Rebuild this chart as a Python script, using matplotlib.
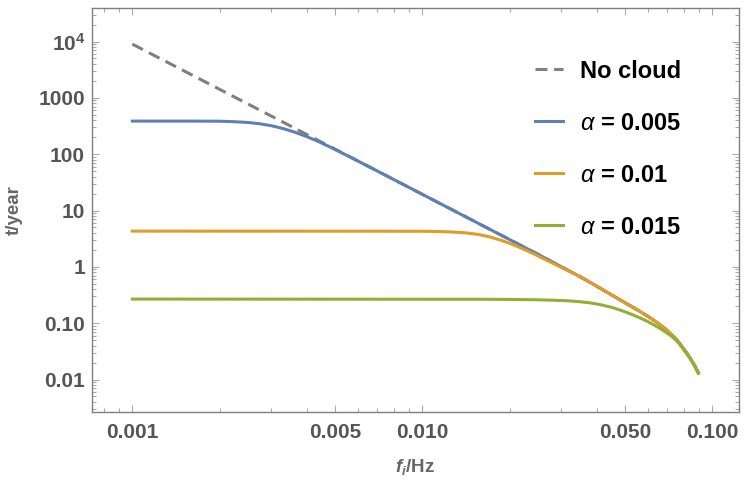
import numpy as np
import matplotlib
matplotlib.use("Agg")
import matplotlib.pyplot as plt
from matplotlib.ticker import FixedLocator, FixedFormatter, NullFormatter

# === data (f in Hz, t in years) ===
# no-cloud curve (straight part + bend near the end)
f_nocloud = [0.001, 0.00316, 0.01, 0.02512, 0.03162, 0.03467, 0.03802, 0.04121, 0.04467,
             0.04732, 0.05012, 0.05309, 0.05623, 0.05957, 0.0631, 0.06607, 0.06918,
             0.07161, 0.07413, 0.07674, 0.07943, 0.08175, 0.08414, 0.08679, 0.08954]
t_nocloud = [9000, 419, 19.4, 1.660, 0.881, 0.687, 0.525, 0.412, 0.324,
             0.272, 0.229, 0.193, 0.162, 0.135, 0.1109, 0.0933, 0.0776,
             0.0661, 0.0556, 0.0452, 0.0359, 0.0292, 0.0234, 0.0180, 0.0130]

# alpha = 0.005: plateau and bend, then it lies on the no-cloud curve
f_a005_head = [0.001, 0.00158, 0.002, 0.002239, 0.002512, 0.002754, 0.00302, 0.003311,
               0.003631, 0.003981, 0.004365, 0.004786, 0.005248, 0.00631, 0.01]
t_a005_head = [387, 387, 385, 378, 365.6, 346.7, 319.9, 285.1,
               246.0, 206.5, 169.4, 135.5, 107.2, 66.1, 19.4]

# alpha = 0.01
f_a01_head = [0.001, 0.01, 0.01122, 0.01259, 0.01413, 0.01549, 0.01698, 0.01862, 0.01995,
              0.02113, 0.02265, 0.02415, 0.0257, 0.02754, 0.02951, 0.03162, 0.03467]
t_a01_head = [4.31, 4.29, 4.246, 4.169, 4.009, 3.784, 3.428, 2.985, 2.630,
              2.333, 1.995, 1.718, 1.462, 1.230, 1.035, 0.871, 0.684]

# alpha = 0.015
f_a015 = [0.001, 0.01585, 0.01995, 0.02512, 0.02818, 0.03162, 0.03467, 0.03802, 0.04121,
          0.04467, 0.04732, 0.05012, 0.05309, 0.05623, 0.05957, 0.0631, 0.06607,
          0.06918, 0.07161, 0.07413, 0.07674, 0.07943, 0.08175, 0.08414, 0.08679, 0.08954]
t_a015 = [0.268, 0.266, 0.2642, 0.260, 0.2559, 0.250, 0.2415, 0.2291, 0.2128,
          0.1928, 0.1758, 0.1585, 0.1413, 0.1245, 0.1084, 0.0923, 0.0804,
          0.0692, 0.0610, 0.0525, 0.0437, 0.0347, 0.0282, 0.0229, 0.0176, 0.0130]

labels = ["No cloud", r"$\alpha$ = 0.005", r"$\alpha$ = 0.01", r"$\alpha$ = 0.015"]

xticks = [0.001, 0.005, 0.01, 0.05, 0.1]
xticklabels = ["0.001", "0.005", "0.010", "0.050", "0.100"]
yticks = [0.01, 0.1, 1, 10, 100, 1000, 1e4]
yticklabels = ["0.01", "0.10", "1", "10", "100", "1000", r"$10^4$"]

# blue and orange join the no-cloud curve
f_a005 = f_a005_head + f_nocloud[3:]
t_a005 = t_a005_head + t_nocloud[3:]
f_a01 = f_a01_head + f_nocloud[6:]
t_a01 = t_a01_head + t_nocloud[6:]

# === style ===
plt.rcParams["font.family"] = ["Liberation Sans", "DejaVu Sans"]
plt.rcParams["mathtext.fontset"] = "custom"
plt.rcParams["mathtext.rm"] = "Liberation Sans:bold"
plt.rcParams["mathtext.it"] = "Liberation Sans:italic"
plt.rcParams["mathtext.bf"] = "Liberation Sans:italic:bold"

c_gray = "#808080"
c_blue = "#5E81B5"
c_orange = "#E19C24"
c_green = "#8FB032"
lw = 2.2

fig = plt.figure(figsize=(7.5, 4.84), dpi=100)
ax = fig.add_axes([92 / 750, 1 - 412 / 484, (739 - 92) / 750, (412 - 8) / 484])

ax.plot(f_nocloud, t_nocloud, color=c_gray, lw=lw, linestyle=(0, (3.9, 2.2)),
        dash_capstyle="butt", label=labels[0])
ax.plot(f_a005, t_a005, color=c_blue, lw=lw, label=labels[1])
ax.plot(f_a01, t_a01, color=c_orange, lw=lw, label=labels[2])
ax.plot(f_a015, t_a015, color=c_green, lw=lw, label=labels[3])

ax.set_xscale("log")
ax.set_yscale("log")
ax.set_xlim(0.000726, 0.1236)
ax.set_ylim(0.00265, 39400)

ax.xaxis.set_major_locator(FixedLocator(xticks))
ax.xaxis.set_major_formatter(FixedFormatter(xticklabels))
xminor = [0.0008, 0.0009, 0.002, 0.003, 0.004, 0.006, 0.007, 0.008, 0.009,
          0.02, 0.03, 0.04, 0.06, 0.07, 0.08, 0.09]
ax.xaxis.set_minor_locator(FixedLocator(xminor))
ax.xaxis.set_minor_formatter(NullFormatter())

ax.yaxis.set_major_locator(FixedLocator(yticks))
ax.yaxis.set_major_formatter(FixedFormatter(yticklabels))
yminor = [m * 10.0 ** e for e in range(-3, 5) for m in range(2, 10)]
ax.yaxis.set_minor_locator(FixedLocator(yminor))
ax.yaxis.set_minor_formatter(NullFormatter())

ax.tick_params(which="both", direction="in", top=True, right=True, color="#aaaaaa",
               labelcolor="#555555", labelsize=15, width=0.8)
ax.tick_params(which="major", length=5)
ax.tick_params(which="minor", length=3)
ax.tick_params(axis="x", which="major", pad=8)
ax.tick_params(axis="y", which="major", pad=5)
for lab in ax.get_xticklabels() + ax.get_yticklabels():
    lab.set_fontweight("bold")
for sp in ax.spines.values():
    sp.set_color("#7f7f7f")
    sp.set_linewidth(1.0)

ax.set_xlabel(r"$\mathbf{f_i}$/Hz", fontsize=13.5, fontweight="bold", color="#666666")
ax.set_ylabel("t/year", fontsize=13.5, fontweight="bold", color="#666666")
ax.xaxis.label.set_va("center")
ax.yaxis.label.set_va("center")
ax.xaxis.set_label_coords((415 - 92) / 647, (412 - 467) / 404)
ax.yaxis.set_label_coords((14 - 92) / 647, (412 - 210) / 404)

leg = ax.legend(loc="upper left", bbox_to_anchor=(535 / 750, 1 - 59.5 / 484),
                bbox_transform=fig.transFigure, frameon=False, borderpad=0,
                borderaxespad=0, handlelength=1.19, handletextpad=0.72,
                labelspacing=1.23, prop={"weight": "bold", "size": 17})

fig.savefig("out.png", dpi=100)
